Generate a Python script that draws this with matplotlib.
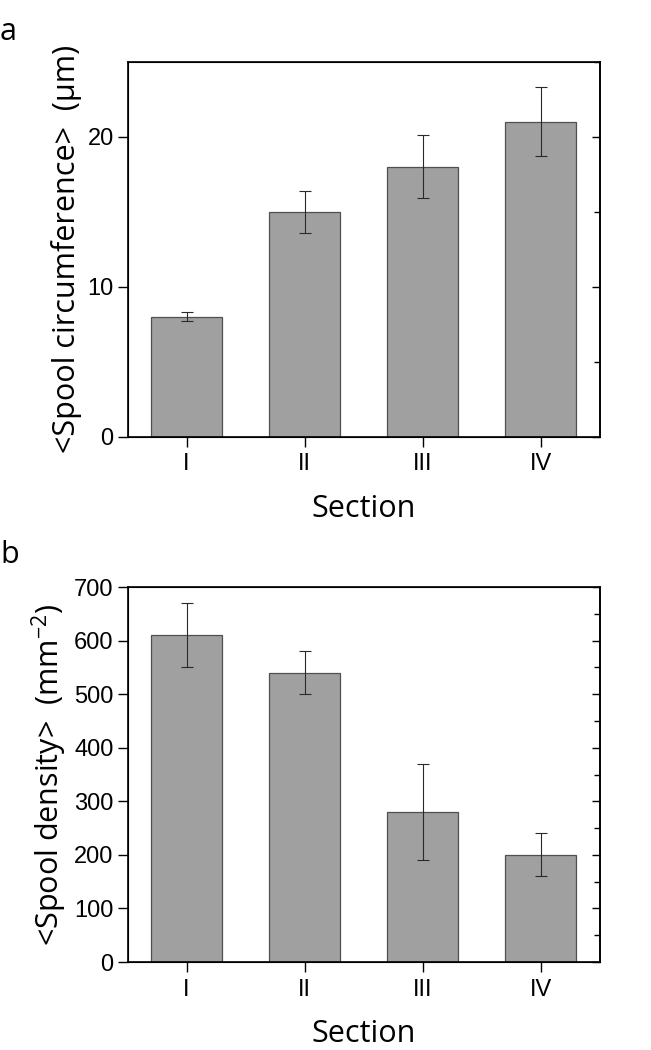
import matplotlib
matplotlib.use("Agg")
import matplotlib.pyplot as plt
from matplotlib.ticker import MultipleLocator

sections = ["I", "II", "III", "IV"]
circ_values = [8.0, 15.0, 18.0, 21.0]
circ_errors = [0.3, 1.4, 2.1, 2.3]
dens_values = [610, 540, 280, 200]
dens_errors = [60, 40, 90, 40]

LABEL_FONT = ["Open Sans", "DejaVu Sans"]
TICK_FONT = ["Liberation Sans", "DejaVu Sans"]

fig = plt.figure(figsize=(6.51, 10.5), dpi=100)

def make_panel(rect, values, errors, ylim, major, minor_right, ylabel, letter, letter_y):
    ax = fig.add_axes(rect)
    x = list(range(1, len(sections) + 1))
    ax.bar(x, values, width=0.6, color="#a0a0a0", edgecolor="#505050", linewidth=0.9, zorder=2)
    ax.errorbar(x, values, yerr=errors, fmt="none", ecolor="#2a2a2a", elinewidth=0.8,
                capsize=4, capthick=0.8, zorder=3)
    ax.set_xlim(0.5, len(sections) + 0.5)
    ax.set_ylim(*ylim)
    ax.set_xticks(x)
    ax.set_xticklabels(sections)
    ax.yaxis.set_major_locator(MultipleLocator(major))
    ax.tick_params(axis="both", which="major", direction="out", length=7, width=1.0,
                   labelsize=17, pad=3)
    for lab in ax.get_xticklabels() + ax.get_yticklabels():
        lab.set_family(TICK_FONT)
    ax.tick_params(axis="x", pad=5)
    for s in ax.spines.values():
        s.set_linewidth(1.2)
    ax.set_xlabel("Section", fontsize=22, family=LABEL_FONT, labelpad=13)
    ax.set_ylabel(ylabel, fontsize=22, family=LABEL_FONT, labelpad=4)
    # right-side inward ticks
    ax2 = ax.twinx()
    ax2.set_ylim(*ylim)
    ax2.yaxis.set_major_locator(MultipleLocator(major))
    ax2.yaxis.set_minor_locator(MultipleLocator(minor_right))
    ax2.tick_params(axis="y", which="major", direction="in", length=6, width=1.0, labelright=False)
    ax2.tick_params(axis="y", which="minor", direction="in", length=4, width=1.0)
    ax2.spines["right"].set_linewidth(1.2)
    fig.text(0.0, letter_y, letter, fontsize=22, family=LABEL_FONT, ha="left", va="center")
    return ax

make_panel([0.196, 0.584, 0.725, 0.357], circ_values, circ_errors, (0, 25), 10, 5,
           "<Spool circumference>  (\u03bcm)", "a", 1 - 32 / 1050)
make_panel([0.196, 0.0838, 0.725, 0.357], dens_values, dens_errors, (0, 700), 100, 50,
           "<Spool density>  (mm$^{\\mathregular{-2}}$)", "b", 1 - 555 / 1050)

fig.savefig("out.png", dpi=100)
